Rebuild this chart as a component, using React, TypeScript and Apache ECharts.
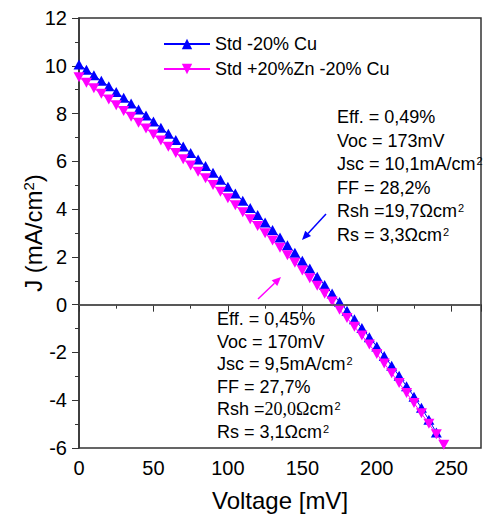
import React, { useEffect, useRef } from "react";
import * as echarts from "echarts";

const voltageBlue = [0,5,10,15,20,25,30,35,40,45,50,55,60,65,70,75,80,85,90,95,100,105,110,115,120,125,130,135,140,145,150,155,160,165,170,175,180,185,190,195,200,205,210,215,220,225,230,235,240];
const jBlue = [10.05,9.83,9.60,9.37,9.14,8.90,8.66,8.42,8.17,7.92,7.67,7.41,7.15,6.89,6.62,6.35,6.08,5.80,5.52,5.23,4.94,4.65,4.35,4.05,3.75,3.44,3.13,2.81,2.49,2.17,1.84,1.51,1.17,0.82,0.47,0.11,-0.25,-0.61,-0.98,-1.36,-1.75,-2.15,-2.56,-2.98,-3.41,-3.85,-4.32,-4.82,-5.35];
const voltageMagenta = [0,5,10,15,20,25,30,35,40,45,50,55,60,65,70,75,80,85,90,95,100,105,110,115,120,125,130,135,140,145,150,155,160,165,170,175,180,185,190,195,200,205,210,215,220,225,230,235,240,245];
const jMagenta = [9.52,9.29,9.06,8.83,8.59,8.35,8.11,7.87,7.62,7.37,7.12,6.87,6.61,6.35,6.09,5.83,5.56,5.29,5.01,4.73,4.45,4.16,3.87,3.58,3.29,2.99,2.69,2.38,2.07,1.75,1.43,1.11,0.79,0.46,0.13,-0.21,-0.56,-0.92,-1.29,-1.67,-2.06,-2.46,-2.87,-3.28,-3.70,-4.12,-4.55,-4.99,-5.42,-5.86];

const seriesNames = ["Std -20% Cu", "Std +20%Zn -20% Cu"];
const upperNotes = [
  "Eff. = 0,49%",
  "Voc = 173mV",
  "Jsc = 10,1mA/cm{sup|2}",
  "FF = 28,2%",
  "Rsh =19,7Ωcm{sup|2}",
  "Rs = 3,3Ωcm{sup|2}",
];
const lowerNotes = [
  "Eff. = 0,45%",
  "Voc = 170mV",
  "Jsc = 9,5mA/cm{sup|2}",
  "FF = 27,7%",
  "Rsh ={serif|20,0Ω}cm{sup|2}",
  "Rs = 3,1Ωcm{sup|2}",
];
const yTicks = { min: -6, max: 12, interval: 2 };
const xTicks = { min: 0, max: 270, interval: 50 };

const FONT = "'Liberation Sans', Arial, sans-serif";
const BLUE = "#0000ff";
const MAGENTA = "#ff00ff";

export default function App() {
  const ref = useRef<HTMLDivElement>(null);
  useEffect(() => {
    if (!ref.current) return;
    const chart = echarts.init(ref.current, null, { renderer: "svg" });
    const supRich = {
      sup: { fontSize: 11, fontFamily: FONT, verticalAlign: "top", padding: [0, 0, 0, 1] },
      serif: { fontSize: 18, fontFamily: "'Liberation Serif', 'Times New Roman', serif" },
    };
    const noteText = (lines: string[], x: number, y: number, lh: number) =>
      lines.map((t, i) => ({
        type: "text",
        left: x,
        top: y + i * lh,
        z: 10,
        style: {
          text: t,
          fontSize: 18,
          fontFamily: FONT,
          fill: "#000",
          rich: supRich,
        },
      }));
    const blueData = voltageBlue.map((v, i) => [v, jBlue[i]]);
    const magData = voltageMagenta.map((v, i) => [v, jMagenta[i]]);
    chart.setOption({
      animation: false,
      backgroundColor: "#fff",
      grid: {
        left: 79,
        top: 18,
        width: 407,
        height: 431,
        show: true,
        borderColor: "#333",
        borderWidth: 1.5,
      },
      legend: {
        orient: "vertical",
        left: 158,
        top: 30,
        itemWidth: 46,
        itemHeight: 13,
        itemGap: 7,
        textStyle: { fontSize: 18, fontFamily: FONT, color: "#000", lineHeight: 18 },
        data: seriesNames,
      },
      xAxis: {
        type: "value",
        min: xTicks.min,
        max: xTicks.max,
        interval: xTicks.interval,
        name: "Voltage [mV]",
        nameLocation: "middle",
        nameGap: 40,
        nameTextStyle: { fontSize: 24, fontFamily: FONT, color: "#000" },
        axisLine: { lineStyle: { color: "#333", width: 1.5 } },
        axisTick: { inside: false, length: 7, lineStyle: { color: "#333", width: 1 } },
        minorTick: { show: true, splitNumber: 2, length: 4, lineStyle: { color: "#333" } },
        splitLine: { show: false },
        axisLabel: {
          fontSize: 20,
          fontFamily: FONT,
          color: "#000",
          margin: 10,
          formatter: (v: number) => (v % 50 === 0 ? String(v) : ""),
        },
      },
      yAxis: {
        type: "value",
        min: yTicks.min,
        max: yTicks.max,
        interval: yTicks.interval,
        name: "J (mA/cm{sup|2})",
        nameLocation: "middle",
        nameGap: 34,
        nameMoveOverlap: false,
        nameTextStyle: {
          fontSize: 24,
          fontFamily: FONT,
          color: "#000",
          rich: { sup: { fontSize: 15, fontFamily: FONT, verticalAlign: "top" } },
        },
        axisLine: { lineStyle: { color: "#333", width: 1.5 } },
        axisTick: { inside: false, length: 7, lineStyle: { color: "#333", width: 1 } },
        minorTick: { show: true, splitNumber: 2, length: 4, lineStyle: { color: "#333" } },
        splitLine: { show: false },
        axisLabel: { fontSize: 20, fontFamily: FONT, color: "#000", margin: 12 },
      },
      series: [
        {
          name: seriesNames[0],
          type: "line",
          data: blueData,
          symbol: "triangle",
          symbolSize: [11, 10],
          itemStyle: { color: BLUE },
          lineStyle: { color: BLUE, width: 1 },
          markLine: {
            silent: true,
            symbol: "none",
            label: { show: false },
            lineStyle: { color: "#555", width: 1.5, type: "solid" },
            data: [{ yAxis: 0 }],
          },
          z: 3,
        },
        {
          name: seriesNames[1],
          type: "line",
          data: magData,
          symbol: "path://M0,0L10,0L5,9Z",
          symbolSize: [11, 10],
          itemStyle: { color: MAGENTA },
          lineStyle: { color: MAGENTA, width: 1 },
          z: 4,
        },
      ],
      graphic: [
        ...noteText(upperNotes, 337, 108, 23.6),
        ...noteText(lowerNotes, 217, 310, 22.6),
        { type: "line", shape: { x1: 326, y1: 214, x2: 308, y2: 233.4 }, style: { stroke: BLUE, lineWidth: 1.5 }, z: 10 },
        { type: "polygon", shape: { points: [[302, 240], [311, 236.1], [305.2, 230.7]] }, style: { fill: BLUE }, z: 10 },
        { type: "line", shape: { x1: 258, y1: 299, x2: 274.5, y2: 283.2 }, style: { stroke: MAGENTA, lineWidth: 1.5 }, z: 10 },
        { type: "polygon", shape: { points: [[281, 277], [277.3, 286.1], [271.7, 280.3]] }, style: { fill: MAGENTA }, z: 10 },
      ],
    });
    return () => chart.dispose();
  }, []);
  return (
    <div
      ref={ref}
      style={{ position: "fixed", left: 0, top: 0, width: 484, height: 517, background: "#fff" }}
    />
  );
}
